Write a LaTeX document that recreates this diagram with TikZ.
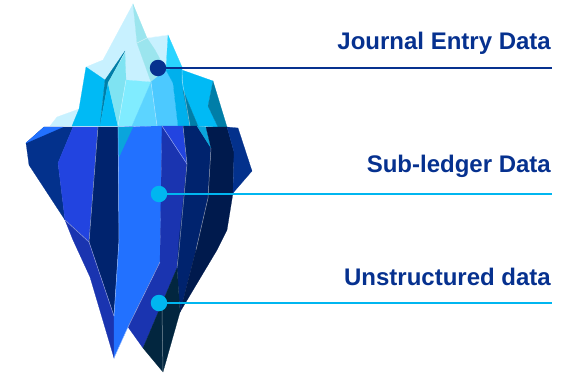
\documentclass[tikz,border=0pt]{standalone}
\usepackage{fontspec}
\setmainfont{Liberation Sans}
\definecolor{txtblue}{HTML}{06318F}
\definecolor{dotcyan}{HTML}{00B6F0}
\definecolor{ltice}{HTML}{C8F1FF}
\definecolor{aqua}{HTML}{9BE5EE}
\definecolor{aquaB}{HTML}{7FE3F2}
\definecolor{brightA}{HTML}{29D4FF}
\definecolor{brightC}{HTML}{80ECFF}
\definecolor{midC}{HTML}{5CD4FF}
\definecolor{midD}{HTML}{4CC9FF}
\definecolor{cyanA}{HTML}{00BAF5}
\definecolor{cyanB}{HTML}{00B0EC}
\definecolor{teal}{HTML}{007EA8}
\definecolor{navyA}{HTML}{03318C}
\definecolor{navyB}{HTML}{00236E}
\definecolor{navyC}{HTML}{001A4D}
\definecolor{blueA}{HTML}{2244E0}
\definecolor{blueB}{HTML}{2271FF}
\definecolor{royal}{HTML}{1A34B0}
\definecolor{tealB}{HTML}{0AA5DC}
\definecolor{deep}{HTML}{02263F}
\tikzset{
  facet/.style={fill=#1,draw=#1,line width=0.2pt},
  ridge/.style={draw=white,draw opacity=0.5,line width=0.5pt},
  dotn/.style={circle,fill=#1,minimum size=16.5pt,inner sep=0pt,outer sep=0pt},
  lead/.style={draw=#1,line width=2.2pt},
  lab/.style={anchor=base east,inner sep=0pt,text=txtblue,font=\fontsize{24pt}{28pt}\selectfont\bfseries}
}
\begin{document}
\begin{tikzpicture}[x=1pt,y=-1pt]
\useasboundingbox (0,0) rectangle (577,372);
% above water
\fill[facet=ltice] (79,109)--(57,117)--(50,126)--(72,126)--cycle;
\fill[facet=ltice] (133,4)--(103,60)--(86,67)--(105,80)--(125,51)--(126,80)--(151,82)--(137,43)--cycle;
\fill[facet=aqua] (133,4)--(147,38)--(137,43)--cycle;
\fill[facet=ltice] (147,38)--(168,35)--(166,70)--(155,50)--cycle;
\fill[facet=aqua] (137,43)--(147,38)--(155,50)--(166,70)--(151,82)--cycle;
\fill[facet=brightA] (168,35)--(182,67)--(166,70)--cycle;
\fill[facet=cyanA] (86,67)--(105,80)--(100,126)--(72,126)--(79,109)--cycle;
\fill[facet=teal] (125,51)--(105,80)--(100,126)--(108,83)--cycle;
\fill[facet=cyanA] (108,83)--(100,126)--(118,126)--cycle;
\fill[facet=aquaB] (125,53)--(126,80)--(118,126)--(108,83)--cycle;
\fill[facet=brightC] (126,80)--(151,82)--(132,126)--(118,126)--cycle;
\fill[facet=midC] (151,82)--(157,126)--(132,126)--cycle;
\fill[facet=midD] (151,82)--(166,70)--(173,83)--(178,126)--(157,126)--cycle;
\fill[facet=cyanB] (166,70)--(182,67)--(182,80)--(190,126)--(178,126)--(173,83)--cycle;
\fill[facet=cyanA] (182,70)--(213,81)--(208,106)--(218,127)--(198,126)--(183,90)--cycle;
\fill[facet=teal] (183,90)--(198,126)--(190,126)--cycle;
\fill[facet=teal] (213,81)--(227,127)--(218,127)--(208,106)--cycle;
% below water
\fill[facet=navyA] (44,127)--(26,143)--(29,165)--(65,220)--(58,163)--(73,127)--cycle;
\fill[facet=blueB] (44,127)--(63,127)--(26,143)--cycle;
\fill[facet=blueA] (73,127)--(98,127)--(89,242)--(65,220)--(58,163)--cycle;
\fill[facet=navyB] (98,127)--(118,127)--(119,240)--(114,316)--(89,242)--cycle;
\fill[facet=royal] (65,220)--(89,242)--(114,316)--(114,358)--(90,277)--(73,240)--cycle;
\fill[facet=blueB] (118,127)--(162,126)--(160,262)--(128,327)--(114,358)--(114,316)--(119,240)--cycle;
\fill[facet=tealB] (118,127)--(133,127)--(119,157)--cycle;
\fill[facet=royal] (162,126)--(187,164)--(179,250)--(177,268)--(143,348)--(128,327)--(160,262)--cycle;
\fill[facet=blueA] (162,126)--(183,126)--(187,164)--cycle;
\fill[facet=navyB] (183,126)--(197,126)--(211,148)--(208,198)--(196,250)--(180,312)--(177,268)--(179,240)--(187,164)--cycle;
\fill[facet=tealB] (197,126)--(206,127)--(211,148)--cycle;
\fill[facet=navyC] (206,127)--(227,127)--(234,152)--(233,193)--(227,230)--(217,250)--(180,312)--(196,250)--(208,198)--(211,148)--cycle;
\fill[facet=navyA] (227,127)--(238,128)--(252,171)--(233,193)--(234,152)--cycle;
\fill[facet=deep] (177,268)--(180,312)--(163,372)--(143,348)--cycle;
% ridges
\draw[ridge] (162,126)--(187,164);
\draw[ridge] (118,127)--(119,240)--(114,316);
\draw[ridge] (98,127)--(89,242);
\draw[ridge] (183,126)--(187,164)--(179,250)--(177,268);
\draw[ridge] (65,220)--(89,242)--(114,316);
\draw[ridge] (160,262)--(128,327)--(114,358);
\draw[ridge] (163,372)--(162,310);
\draw[ridge] (211,148)--(208,198)--(196,250);
\draw[ridge] (126,80)--(118,126);
\draw[ridge] (151,82)--(157,126);
\draw[ridge] (182,70)--(182,80)--(190,126);
\draw[ridge] (137,43)--(147,38)--(168,35);
% dots, leaders and labels
\node[dotn=txtblue] (d1) at (158,68) {};
\node[dotn=dotcyan] (d2) at (159,194) {};
\node[dotn=dotcyan] (d3) at (159,303) {};
\coordinate (e1) at (552,68);
\coordinate (e2) at (552,194);
\coordinate (e3) at (552,303);
\draw[lead=txtblue] (d1) -- (e1);
\draw[lead=dotcyan] (d2) -- (e2);
\draw[lead=dotcyan] (d3) -- (e3);
\node[lab] (t1) at (551,49) {Journal Entry Data};
\node[lab] (t2) at (551,172) {Sub-ledger Data};
\node[lab] (t3) at (551,285.5) {Unstructured data};
\end{tikzpicture}
\end{document}
